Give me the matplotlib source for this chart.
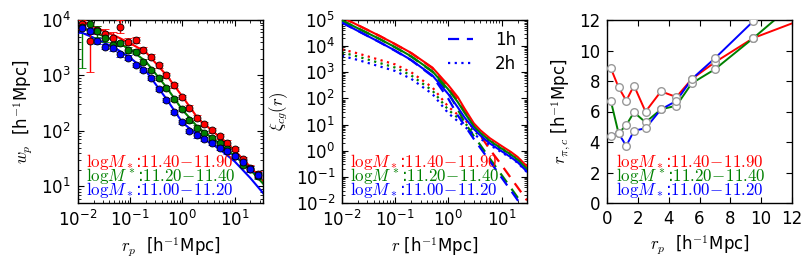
import numpy as np
import matplotlib
matplotlib.use("Agg")
import matplotlib.pyplot as plt
from matplotlib.ticker import LogLocator, NullFormatter

plt.rcParams['mathtext.fontset'] = 'cm'
plt.rcParams['font.family'] = ['DejaVu Sans']

# ---------------- data ----------------
colors = ['r', 'g', 'b']
bin_labels = [r'$\mathrm{log}M_*$:$11.40\!-\!11.90$',
              r'$\mathrm{log}M^*$:$11.20\!-\!11.40$',
              r'$\mathrm{log}M_*$:$11.00\!-\!11.20$']

# panel 1: projected correlation function w_p(r_p)
rp = [0.0119, 0.0167, 0.0234, 0.0328, 0.0460, 0.0644, 0.0904, 0.127, 0.177, 0.249,
      0.349, 0.490, 0.686, 0.962, 1.35, 1.89, 2.65, 3.72, 5.20, 7.29, 10.2, 14.3, 20.1, 28.2]
red_logwp = [3.92, 3.62, 3.82, 3.75, 3.68, 3.88, 3.61, 3.64, 3.46, 3.34, 3.18, 3.00,
             2.82, 2.61, 2.42, 2.24, 2.12, 2.01, 1.90, 1.79, 1.67, 1.49, 1.33, 1.22]
green_logwp = [3.87, 3.92, 3.80, 3.68, 3.55, 3.58, 3.46, 3.43, 3.25, 3.10, 2.95, 2.77,
               2.58, 2.39, 2.19, 2.06, 1.96, 1.87, 1.78, 1.67, 1.55, 1.39, 1.31, 1.19]
blue_logwp = [3.85, 3.80, 3.62, 3.52, 3.49, 3.38, 3.32, 3.19, 3.10, 2.95, 2.76, 2.56,
              2.34, 2.16, 2.00, 1.92, 1.85, 1.78, 1.70, 1.63, 1.54, 1.43, 1.31, 1.20]
# error bars in dex (lower, upper)
red_err_lo = [0.08, 0.55, 0.08, 0.08, 0.10, 0.12, 0.06, 0.06, 0.05, 0.05, 0.04, 0.04,
              0.04, 0.04, 0.04, 0.04, 0.04, 0.04, 0.04, 0.04, 0.04, 0.04, 0.05, 0.05]
red_err_hi = [0.08, 0.12, 0.08, 0.08, 0.10, 0.12, 0.06, 0.06, 0.05, 0.05, 0.04, 0.04,
              0.04, 0.04, 0.04, 0.04, 0.04, 0.04, 0.04, 0.04, 0.04, 0.04, 0.05, 0.05]
green_err_lo = [0.73, 0.15, 0.10, 0.08, 0.06, 0.05, 0.05, 0.04, 0.04, 0.04, 0.04, 0.04,
                0.04, 0.04, 0.04, 0.04, 0.04, 0.04, 0.04, 0.04, 0.04, 0.04, 0.05, 0.05]
green_err_hi = [0.30, 0.15, 0.10, 0.08, 0.06, 0.05, 0.05, 0.04, 0.04, 0.04, 0.04, 0.04,
                0.04, 0.04, 0.04, 0.04, 0.04, 0.04, 0.04, 0.04, 0.04, 0.04, 0.05, 0.05]
blue_err_lo = [0.08, 0.06, 0.06, 0.05, 0.05, 0.04, 0.04, 0.04, 0.04, 0.04, 0.04, 0.04,
               0.04, 0.04, 0.04, 0.04, 0.04, 0.04, 0.04, 0.04, 0.04, 0.04, 0.05, 0.05]
blue_err_hi = blue_err_lo

# model w_p curves
rp_model = [0.01, 0.02, 0.05, 0.1, 0.2, 0.5, 1.0, 2.0, 5.0, 10.0, 20.0, 35.0]
red_logwp_model = [4.02, 3.88, 3.72, 3.58, 3.42, 3.00, 2.62, 2.22, 1.90, 1.65, 1.35, 1.10]
green_logwp_model = [3.88, 3.78, 3.63, 3.47, 3.25, 2.78, 2.38, 2.06, 1.78, 1.55, 1.30, 1.05]
blue_logwp_model = [3.80, 3.68, 3.50, 3.32, 3.08, 2.57, 2.15, 1.92, 1.68, 1.45, 1.15, 0.88]

# panel 2: 3D cross-correlation xi_cg(r), total / 1-halo / 2-halo
r = [0.01, 0.02, 0.05, 0.1, 0.2, 0.5, 1.0, 1.5, 2.0, 3.0, 4.0, 6.0, 10.0, 15.0, 20.0, 30.0]
red_logxi = [5.10, 4.80, 4.40, 4.08, 3.74, 3.18, 2.50, 2.05, 1.62, 1.05, 0.78, 0.48, 0.18, -0.05, -0.24, -0.60]
green_logxi = [4.98, 4.68, 4.28, 3.96, 3.61, 3.04, 2.34, 1.86, 1.46, 0.94, 0.68, 0.38, 0.08, -0.15, -0.34, -0.70]
blue_logxi = [4.90, 4.58, 4.16, 3.83, 3.47, 2.88, 2.16, 1.66, 1.28, 0.83, 0.58, 0.28, -0.02, -0.25, -0.44, -0.80]
red_logxi_1h = [5.10, 4.80, 4.40, 4.07, 3.73, 3.16, 2.44, 1.92, 1.50, 0.95, 0.58, 0.05, -0.55, -1.05, -1.40, -1.90]
green_logxi_1h = [4.98, 4.68, 4.28, 3.95, 3.60, 3.02, 2.22, 1.58, 1.10, 0.56, 0.21, -0.30, -0.93, -1.43, -1.79, -2.29]
blue_logxi_1h = [4.90, 4.58, 4.16, 3.82, 3.46, 2.85, 1.98, 1.35, 0.98, 0.45, 0.10, -0.40, -1.03, -1.53, -1.89, -2.40]
red_logxi_2h = [3.88, 3.72, 3.48, 3.30, 3.00, 2.42, 1.68, 1.38, 1.18, 0.85, 0.66, 0.42, 0.14, -0.08, -0.26, -0.62]
green_logxi_2h = [3.76, 3.60, 3.36, 3.18, 2.88, 2.30, 1.56, 1.26, 1.06, 0.74, 0.56, 0.32, 0.04, -0.18, -0.36, -0.72]
blue_logxi_2h = [3.63, 3.47, 3.23, 3.05, 2.75, 2.17, 1.43, 1.13, 0.93, 0.63, 0.46, 0.22, -0.06, -0.28, -0.46, -0.82]

# panel 3: r_pi,c vs r_p
rp3 = [0.25, 0.75, 1.25, 1.75, 2.5, 3.5, 4.5, 5.5, 7.0, 9.5, 12.5]
red_rpic = [8.83, 7.59, 6.71, 7.70, 5.99, 7.32, 6.95, 8.13, 9.23, 10.82, 11.97]
green_rpic = [6.69, 4.57, 5.11, 5.95, 5.29, 6.14, 6.38, 7.85, 8.77, 10.82, 13.4]
blue_rpic = [4.41, 4.57, 3.74, 4.74, 4.90, 6.14, 6.69, 8.13, 9.49, 11.93, 14.5]

# ---------------- figure ----------------
fig = plt.figure(figsize=(8.09, 2.68), dpi=100)
W, H = 809.0, 268.0
axw, axh = 185 / W, 183 / H
bottom = (268 - 203) / H
ax1 = fig.add_axes([78 / W, bottom, axw, axh])
ax2 = fig.add_axes([342 / W, bottom, axw, axh])
ax3 = fig.add_axes([607 / W, bottom, axw, axh])

tickfs = 12
labfs = 12
txtfs = 12.2

def style(ax):
    ax.tick_params(which='both', direction='in', top=True, right=True, labelsize=tickfs)
    ax.tick_params(which='major', length=4.5, width=0.8, pad=5)
    ax.tick_params(which='minor', length=2.2, width=0.6)
    for s in ax.spines.values():
        s.set_linewidth(1.0)

def log_minor(ax):
    for axis in (ax.xaxis, ax.yaxis):
        axis.set_minor_locator(LogLocator(base=10, subs=range(2, 10), numticks=100))
        axis.set_minor_formatter(NullFormatter())

def add_bin_labels(ax, x0):
    ys = [0.222, 0.148, 0.070]
    for lab, c, y in zip(bin_labels, colors, ys):
        ax.text(x0, y, lab, color=c, fontsize=txtfs, transform=ax.transAxes,
                va='center', ha='left')

# panel 1
wp_sets = [(red_logwp, red_err_lo, red_err_hi, red_logwp_model),
           (green_logwp, green_err_lo, green_err_hi, green_logwp_model),
           (blue_logwp, blue_err_lo, blue_err_hi, blue_logwp_model)]
for (lw_, elo, ehi, lmod), c in zip(wp_sets, colors):
    y = 10 ** np.array(lw_)
    lo = y - y * 10 ** (-np.array(elo))
    hi = y * 10 ** np.array(ehi) - y
    ax1.plot(rp_model, 10 ** np.array(lmod), color=c, lw=1.5, zorder=2)
    ax1.errorbar(rp, y, yerr=[lo, hi], fmt='o', color=c, ecolor=c, mec='k', mew=0.6,
                 ms=5, capsize=3, elinewidth=1.0, zorder=3)
ax1.set_xscale('log')
ax1.set_yscale('log')
ax1.set_xlim(0.01, 35)
ax1.set_ylim(5, 1e4)
ax1.set_xlabel(r'$r_p$  [h$^{-1}$Mpc]', fontsize=labfs)
ax1.set_ylabel(r'$w_p$  [h$^{-1}$Mpc]', fontsize=labfs)
style(ax1)
log_minor(ax1)
add_bin_labels(ax1, 0.045)

# panel 2
xi_sets = [(red_logxi, red_logxi_1h, red_logxi_2h),
           (green_logxi, green_logxi_1h, green_logxi_2h),
           (blue_logxi, blue_logxi_1h, blue_logxi_2h)]
for (tot, one, two), c in zip(xi_sets, colors):
    ax2.plot(r, 10 ** np.array(one), color=c, lw=1.6, ls=(0, (5, 3.5)), zorder=2)
    ax2.plot(r, 10 ** np.array(two), color=c, lw=1.6, ls=(0, (1, 2)), zorder=2)
for (tot, one, two), c in zip(xi_sets, colors):
    ax2.plot(r, 10 ** np.array(tot), color=c, lw=1.5, zorder=3)
ax2.set_xscale('log')
ax2.set_yscale('log')
ax2.set_xlim(0.01, 30)
ax2.set_ylim(1e-2, 1e5)
h1, = ax2.plot([], [], color='b', lw=1.6, ls=(0, (5, 3.5)))
h2, = ax2.plot([], [], color='b', lw=1.6, ls=(0, (1, 2)))
ax2.legend([h1, h2], ['1h', '2h'], loc='upper right', frameon=False, fontsize=12,
           handlelength=1.5, handletextpad=1.3, labelspacing=0.35,
           borderaxespad=0.25)
ax2.set_xlabel(r'$r$ [h$^{-1}$Mpc]', fontsize=labfs)
ax2.set_ylabel(r'$\xi_{cg}(r)$', fontsize=labfs)
style(ax2)
ax2.set_yticks([1e-2, 1e-1, 1e0, 1e1, 1e2, 1e3, 1e4, 1e5])
log_minor(ax2)
add_bin_labels(ax2, 0.045)

# panel 3
for vals, c in zip([red_rpic, green_rpic, blue_rpic], colors):
    ax3.plot(rp3, vals, color=c, lw=1.4, zorder=2)
for vals, c in zip([red_rpic, green_rpic, blue_rpic], colors):
    ax3.plot(rp3, vals, 'o', mfc='white', mec='0.6', mew=1.0, ms=5.5, zorder=3)
ax3.set_xlim(0, 12)
ax3.set_ylim(0, 12)
ax3.set_xticks(range(0, 13, 2))
ax3.set_yticks(range(0, 13, 2))
ax3.set_xlabel(r'$r_p$  [h$^{-1}$Mpc]', fontsize=labfs)
ax3.set_ylabel(r'$r_{\pi,c}$ [h$^{-1}$Mpc]', fontsize=labfs)
style(ax3)
add_bin_labels(ax3, 0.05)

fig.savefig('out.png', dpi=100)
